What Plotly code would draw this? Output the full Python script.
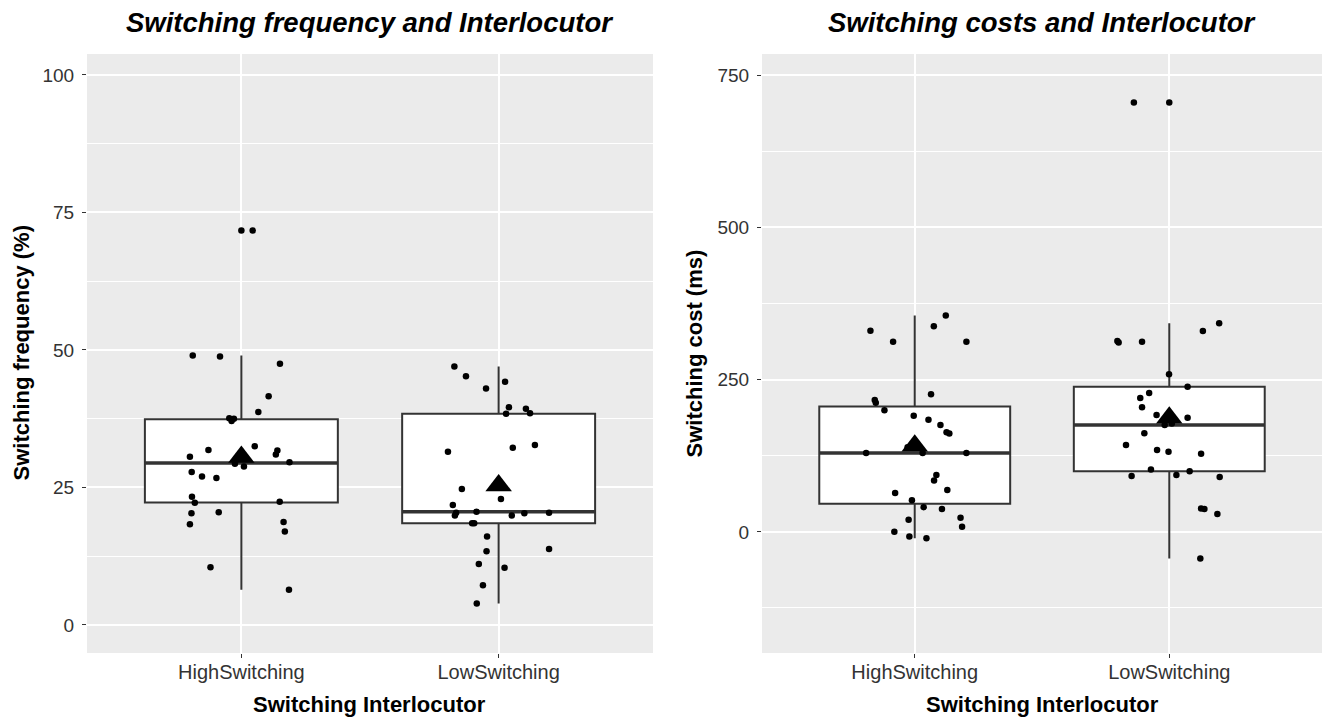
import numpy as np
import plotly.graph_objects as go

# ---------------- data ----------------
groups = ["HighSwitching", "LowSwitching"]

# Switching frequency (%)
freq_high = [71.7, 49.0, 48.8, 47.5, 41.6, 38.7, 37.6, 37.5, 37.1, 31.8, 32.5, 31.7,
             31.0, 30.6, 29.6, 29.3, 28.8, 27.8, 27.0, 26.7, 23.3, 22.2, 22.4, 20.3,
             20.5, 18.3, 18.7, 17.0, 10.5, 6.4]
freq_high_jitter = [0.044, -0.189, -0.083, 0.150, 0.106, 0.066, -0.047, -0.029, -0.038,
                    -0.128, 0.052, 0.140, 0.134, -0.200, 0.187, -0.025, 0.010, -0.193,
                    -0.153, -0.097, -0.192, -0.181, 0.149, -0.194, -0.088, -0.200,
                    0.164, 0.169, -0.120, 0.185]
freq_low = [47.0, 45.2, 44.2, 43.0, 39.6, 39.3, 38.4, 38.5, 31.5, 32.2, 32.7, 24.7,
            22.9, 21.8, 20.4, 19.9, 20.6, 19.9, 20.3, 20.4, 18.5, 18.5, 16.1, 13.4,
            13.8, 11.1, 10.4, 7.2, 3.9]
freq_low_jitter = [-0.172, -0.127, 0.025, -0.049, 0.040, 0.106, 0.029, 0.122, -0.197,
                   0.055, 0.141, -0.143, 0.009, -0.178, -0.165, -0.170, -0.086, 0.051,
                   0.100, 0.196, -0.095, -0.103, -0.045, -0.047, 0.196, -0.077, 0.023,
                   -0.061, -0.085]

# Switching cost (ms)
cost_high = [355.6, 330.4, 337.6, 312.4, 312.4, 226.0, 216.6, 212.3, 199.7, 190.9,
             184.3, 175.6, 163.6, 161.4, 129.7, 129.7, 129.7, 139.0, 93.5, 84.2, 68.9,
             64.0, 52.0, 40.5, 37.7, 19.7, 23.0, 8.2, 0.0, -7.7, -10.4]
cost_high_jitter = [0.122, -0.174, 0.075, -0.085, 0.203, 0.064, -0.157, -0.153, -0.119,
                    -0.004, 0.054, 0.101, 0.125, 0.136, -0.191, 0.031, 0.203, -0.028,
                    0.085, 0.076, 0.128, -0.077, -0.011, 0.035, 0.107, -0.024, 0.180,
                    0.186, -0.080, -0.021, 0.046]
cost_low = [705.2, 342.5, 329.9, 313.7, 311.0, 312.4, 258.8, 238.5, 228.1, 219.9,
            204.6, 192.0, 187.6, 178.0, 175.6, 162.0, 142.8, 134.6, 131.8, 128.5,
            102.3, 99.6, 93.6, 91.9, 90.3, 38.5, 37.7, 29.5, -43.8]
cost_low_jitter = [-0.139, 0.196, 0.132, -0.204, -0.199, -0.107, -0.001, 0.072, -0.079,
                   -0.114, -0.107, -0.050, 0.072, 0.010, -0.018, -0.098, -0.170, -0.048,
                   -0.003, 0.125, -0.072, 0.080, 0.028, -0.148, 0.198, 0.125, 0.138,
                   0.189, 0.122]

panels = [
    dict(title="Switching frequency and Interlocutor", ytitle="Switching frequency (%)",
         series=[(freq_high, freq_high_jitter), (freq_low, freq_low_jitter)],
         yticks=[0, 25, 50, 75, 100], yminor=12.5, yrange=[-5.1, 103.8]),
    dict(title="Switching costs and Interlocutor", ytitle="Switching cost (ms)",
         series=[(cost_high, cost_high_jitter), (cost_low, cost_low_jitter)],
         yticks=[0, 250, 500, 750], yminor=125, yrange=[-199, 785]),
]
xtitle = "Switching Interlocutor"

# ---------------- style ----------------
PAGE_OFF = 8                      # default body margin of the html page
FW, FH = 1331 - PAGE_OFF, 719 - PAGE_OFF
FONT = "Liberation Sans, Arial, sans-serif"
DARK = "#333333"
BOXW = 0.75


def px(x):   # page pixel -> paper x
    return (x - PAGE_OFF) / FW


def py(y):   # page pixel -> paper y
    return (FH - (y - PAGE_OFF)) / FH


x_domains = [[px(87), px(653)], [px(762), px(1322)]]
y_domain = [py(653), py(54)]
ytitle_x = [21, 694]


def box_stats(vals):
    v = np.asarray(vals, float)
    q1, med, q3 = np.percentile(v, [25, 50, 75])
    iqr = q3 - q1
    lo_f, hi_f = q1 - 1.5 * iqr, q3 + 1.5 * iqr
    inside = v[(v >= lo_f) & (v <= hi_f)]
    out = v[(v < lo_f) | (v > hi_f)]
    return q1, med, q3, inside.min(), inside.max(), out, v.mean()


fig = go.Figure()
annotations = []
layout_axes = {}

for p, panel in enumerate(panels):
    sx = "" if p == 0 else str(p + 1)
    xa, ya = "x" + sx, "y" + sx
    for i, (vals, jit) in enumerate(panel["series"]):
        pos = i + 1
        q1, med, q3, lo, hi, out, mean = box_stats(vals)
        fig.add_trace(go.Box(
            x=[pos], q1=[q1], median=[med], q3=[q3], lowerfence=[lo], upperfence=[hi],
            width=BOXW, whiskerwidth=0, fillcolor="white",
            line=dict(color=DARK, width=2), boxpoints=False,
            xaxis=xa, yaxis=ya, hoverinfo="skip"))
        # thicker median line (ggplot fatten)
        fig.add_trace(go.Scatter(
            x=[pos - BOXW / 2, pos + BOXW / 2], y=[med, med], mode="lines",
            line=dict(color=DARK, width=3.5), xaxis=xa, yaxis=ya, hoverinfo="skip"))
        # outliers drawn by the boxplot at the category centre
        if len(out):
            fig.add_trace(go.Scatter(
                x=[pos] * len(out), y=list(out), mode="markers",
                marker=dict(color="black", size=6.5), xaxis=xa, yaxis=ya, hoverinfo="skip"))
        # jittered raw points
        fig.add_trace(go.Scatter(
            x=[pos + j for j in jit], y=vals, mode="markers",
            marker=dict(color="black", size=6.5), xaxis=xa, yaxis=ya, hoverinfo="skip"))
        # mean triangle
        fig.add_trace(go.Scatter(
            x=[pos], y=[mean], mode="markers",
            marker=dict(symbol="triangle-up", color="black", size=23),
            xaxis=xa, yaxis=ya, hoverinfo="skip"))

    layout_axes["xaxis" + sx] = dict(
        domain=x_domains[p], anchor=ya, range=[0.4, 2.6],
        tickmode="array", tickvals=[1, 2], ticktext=groups,
        showgrid=True, gridcolor="white", gridwidth=1.5, zeroline=False, showline=False,
        ticks="outside", ticklen=4, tickwidth=1.1, tickcolor=DARK,
        tickfont=dict(family=FONT, size=20, color=DARK), ticklabelstandoff=-3)
    layout_axes["yaxis" + sx] = dict(
        domain=y_domain, anchor=xa, range=panel["yrange"],
        tickmode="array", tickvals=panel["yticks"],
        showgrid=True, gridcolor="white", gridwidth=1.5, zeroline=False, showline=False,
        ticks="outside", ticklen=4, tickwidth=1.1, tickcolor=DARK,
        tickfont=dict(family=FONT, size=19, color=DARK), ticklabelstandoff=4,
        minor=dict(dtick=panel["yminor"], tick0=0, showgrid=True, gridcolor="white",
                   gridwidth=0.7, ticklen=0))

    cx = (x_domains[p][0] + x_domains[p][1]) / 2
    annotations.append(dict(
        text="<b><i>" + panel["title"] + "</i></b>", x=cx, y=py(22),
        xref="paper", yref="paper", xanchor="center", yanchor="middle", showarrow=False,
        font=dict(family=FONT, size=27.5, color="black")))
    annotations.append(dict(
        text="<b>" + xtitle + "</b>", x=cx, y=py(704),
        xref="paper", yref="paper", xanchor="center", yanchor="middle", showarrow=False,
        font=dict(family=FONT, size=22, color="black")))
    annotations.append(dict(
        text="<b>" + panel["ytitle"] + "</b>", x=px(ytitle_x[p]),
        y=(y_domain[0] + y_domain[1]) / 2, textangle=-90,
        xref="paper", yref="paper", xanchor="center", yanchor="middle", showarrow=False,
        font=dict(family=FONT, size=22, color="black")))

fig.update_layout(
    width=FW, height=FH, margin=dict(l=0, r=0, t=0, b=0),
    paper_bgcolor="white", plot_bgcolor="#EBEBEB", showlegend=False,
    annotations=annotations, **layout_axes)

fig.write_html("out.html")
